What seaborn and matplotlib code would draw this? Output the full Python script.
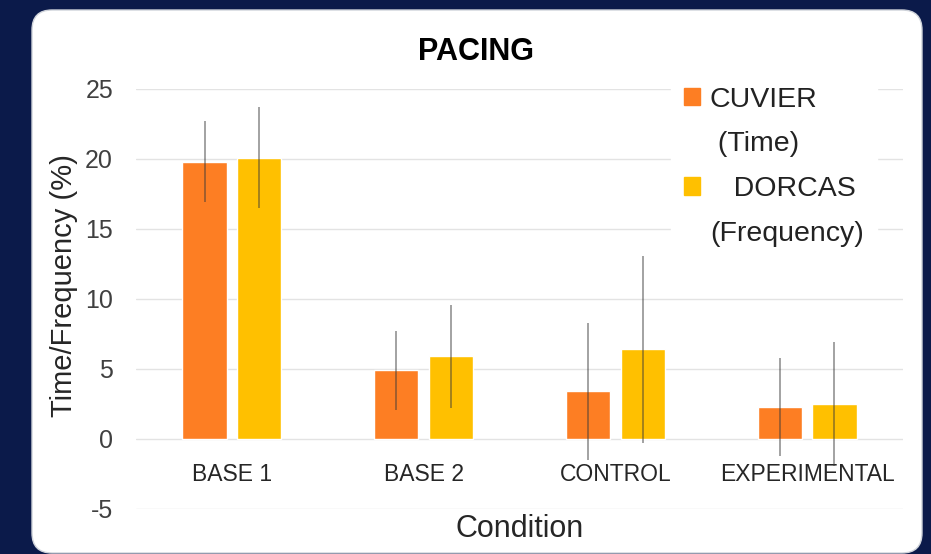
import pandas as pd
import matplotlib.pyplot as plt
from matplotlib.patches import FancyBboxPatch, Patch
from matplotlib.transforms import IdentityTransform
import seaborn as sns

# values
conditions = ["BASE 1", "BASE 2", "CONTROL", "EXPERIMENTAL"]
series_names = ["CUVIER", "DORCAS"]
cuvier_time = [19.8, 4.9, 3.4, 2.3]
dorcas_freq = [20.1, 5.9, 6.4, 2.5]
cuvier_err = [2.9, 2.8, 4.9, 3.5]
dorcas_err = [3.6, 3.7, 6.7, 4.4]
legend_lines = ["CUVIER", " (Time)", "   DORCAS", "(Frequency)"]
y_ticks = [-5, 0, 5, 10, 15, 20, 25]

colors = {"CUVIER": "#FD7E23", "DORCAS": "#FFC000"}
navy = "#0B1A4A"

df = pd.DataFrame({
    "Condition": conditions * 2,
    "Animal": ["CUVIER"] * len(conditions) + ["DORCAS"] * len(conditions),
    "Value": cuvier_time + dorcas_freq,
})
errs = dict(zip(series_names, [cuvier_err, dorcas_err]))

sns.set_style("white")
plt.rcParams["font.family"] = ["Liberation Sans", "DejaVu Sans"]
plt.rcParams["axes.unicode_minus"] = False

fig = plt.figure(figsize=(9.31, 5.54), dpi=100, facecolor=navy)

# white rounded card behind the chart
panel = FancyBboxPatch((32, 1), 890, 543, boxstyle="round,pad=0,rounding_size=20",
                       transform=IdentityTransform(), facecolor="white",
                       edgecolor="#cfd3da", lw=1, zorder=-1)
fig.add_artist(panel)

ax = fig.add_axes([136 / 931, 1 - 509 / 554, 767 / 931, 420 / 554])
ax.set_facecolor("none")

sns.barplot(data=df, x="Condition", y="Value", hue="Animal", order=conditions,
            hue_order=series_names, palette=colors, width=0.57, gap=0.19,
            errorbar=None, saturation=1, legend=False, ax=ax)

# error bars on top of the seaborn bars
bars = list(ax.containers[:2])
for name, cont in zip(series_names, bars):
    xs = [b.get_x() + b.get_width() / 2 for b in cont]
    ys = [b.get_height() for b in cont]
    ax.errorbar(xs, ys, yerr=errs[name], fmt="none", ecolor="#3a3a3a",
                elinewidth=1.1, alpha=0.6, capsize=0)

ax.set_ylim(-5, 25)
ax.set_xlim(-0.5, 3.5)
ax.set_yticks(y_ticks)
ax.yaxis.grid(True, color="#E3E3E3", lw=1)
ax.xaxis.grid(False)
ax.set_axisbelow(True)

ax.spines["bottom"].set_position(("data", 0))
sns.despine(ax=ax, left=True, bottom=True)
ax.tick_params(axis="y", length=0, pad=16.5, labelsize=18, labelcolor="#404040")
ax.tick_params(axis="x", length=0, pad=17.5, labelsize=16.5, labelcolor="#262626")

ax.set_xlabel("Condition", fontsize=22, color="#262626")
ax.xaxis.set_label_coords(0.5, -0.012)
ax.set_ylabel("Time/Frequency (%)", fontsize=21, color="#262626")
ax.yaxis.set_label_coords(-0.0756, 0.531)

ax.set_title("PACING", x=0.443, y=1.069, pad=0, fontsize=22,
             fontweight="bold", color="black")

blank = Patch(facecolor="none", edgecolor="none")
handles = [Patch(color=colors["CUVIER"]), blank, Patch(color=colors["DORCAS"]), blank]
ax.legend(handles, legend_lines, loc="upper left", bbox_to_anchor=(0.6975, 1.036),
          borderaxespad=0, borderpad=0.45, frameon=True, facecolor="white",
          edgecolor="white", framealpha=1, fancybox=False, handlelength=0.58,
          handleheight=0.58, handletextpad=0.34, labelspacing=0.66,
          fontsize=20.5, labelcolor="#222222")

fig.savefig("out.png", dpi=100, facecolor=fig.get_facecolor())
